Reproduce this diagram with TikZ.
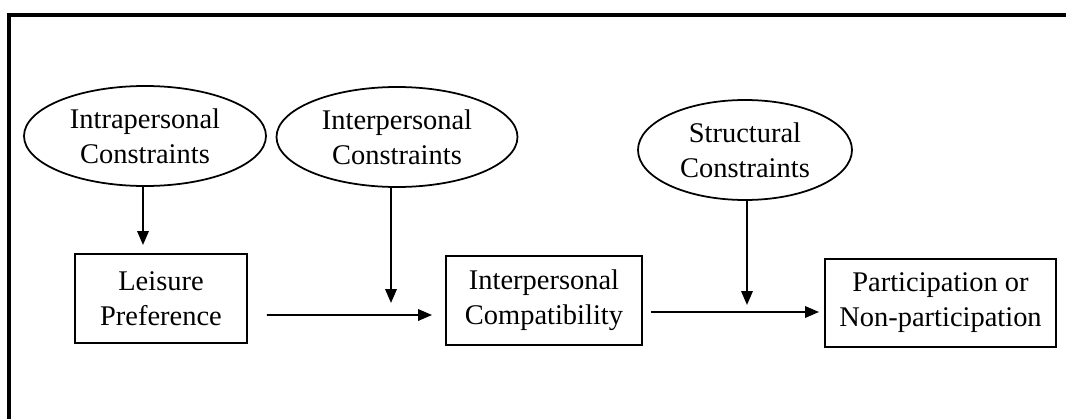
\documentclass[tikz,border=0pt]{standalone}
\usepackage{fontspec}
\setmainfont{Liberation Serif}
\usetikzlibrary{arrows.meta,shapes.geometric,calc}

\begin{document}
\begin{tikzpicture}[x=1cm,y=1cm]
\tikzset{
  constraint/.style={ellipse,draw,line width=1pt,inner sep=0pt,minimum height=2.00cm,align=center,font=\fontsize{16.2}{20}\selectfont},
  stage/.style={rectangle,draw,line width=1.1pt,inner sep=0pt,minimum height=1.78cm,align=center,font=\fontsize{16.2}{20}\selectfont},
  influence/.style={-{Triangle[length=2.8mm,width=2.3mm]},line width=1.1pt},
  frame/.style={line width=2.2pt}
}
\useasboundingbox (0,0) rectangle (21.32,8.36);
\draw[frame] (0.18,-0.30) -- (0.18,8.06) -- (21.60,8.06);
% constraints
\node[constraint,minimum width=4.84cm] (e_intra) at (2.90,5.64) {Intrapersonal\\Constraints};
\node[constraint,minimum width=4.82cm] (e_inter) at (7.94,5.62) {Interpersonal\\Constraints};
\node[constraint,minimum width=4.28cm] (e_struct) at (14.90,5.36) {Structural\\Constraints};
% stages
\node[stage,minimum width=3.44cm] (b_pref) at (3.22,2.39) {Leisure\\Preference};
\node[stage,minimum width=3.92cm] (b_compat) at (10.88,2.35) {Interpersonal\\Compatibility};
\node[stage,minimum width=4.62cm,minimum height=1.76cm] (b_part) at (18.81,2.30) {Participation or\\Non-participation};
% arrow tips
\coordinate (t_intra) at (2.86,3.46);
\coordinate (t_inter) at (7.82,2.30);
\coordinate (t_struct) at (14.94,2.26);
\draw[influence] (e_intra.south -| t_intra) -- (t_intra);
\draw[influence] (e_inter.south -| t_inter) -- (t_inter);
\draw[influence] (e_struct.south -| t_struct) -- (t_struct);
\draw[influence] ($(b_pref.east)+(0.38,-0.33)$) -- ($(b_compat.west)+(-0.26,-0.29)$);
\draw[influence] ($(b_compat.east)+(0.16,-0.23)$) -- ($(b_part.west)+(-0.10,-0.18)$);
\end{tikzpicture}
\end{document}
